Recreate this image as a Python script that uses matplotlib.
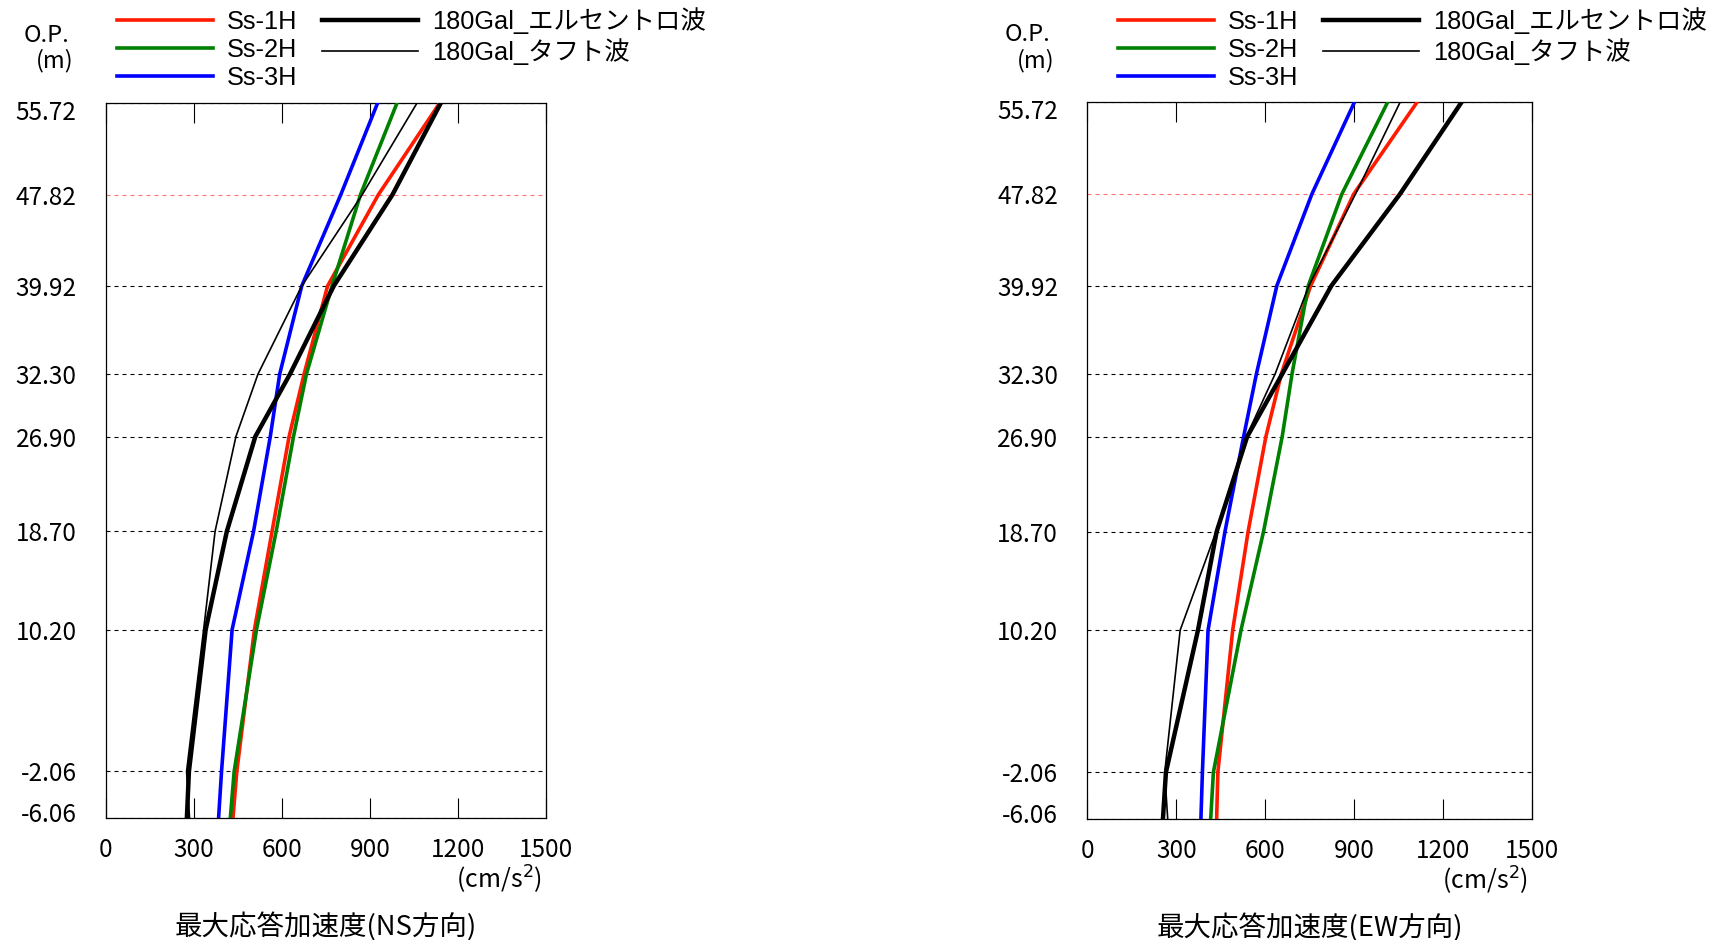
import matplotlib
matplotlib.use('Agg')
import matplotlib.pyplot as plt
import matplotlib.transforms as mtransforms

plt.rcParams['font.family'] = ['Noto Sans CJK JP', 'DejaVu Sans']

# Floor levels O.P.(m), top to bottom
levels = [55.72, 47.82, 39.92, 32.30, 26.90, 18.70, 10.20, -2.06, -6.06]
level_labels = ['55.72', '47.82', '39.92', '32.30', '26.90', '18.70', '10.20', '-2.06', '-6.06']
x_ticks = [0, 300, 600, 900, 1200, 1500]

# Max response acceleration (cm/s2), NS direction
ns_ss1h = [1136, 928, 755, 675, 624, 566, 506, 446, 433]
ns_ss2h = [991, 867, 770, 683, 639, 580, 513, 437, 424]
ns_ss3h = [925, 800, 667, 592, 560, 503, 430, 394, 384]
ns_elcentro = [1140, 976, 776, 627, 509, 412, 340, 283, 276]
ns_taft = [1059, 873, 667, 518, 443, 372, 333, 275, 285]

# Max response acceleration (cm/s2), EW direction
ew_ss1h = [1111, 898, 753, 654, 602, 542, 490, 440, 436]
ew_ss2h = [1012, 858, 745, 690, 657, 594, 518, 425, 416]
ew_ss3h = [900, 757, 639, 570, 527, 464, 407, 388, 383]
ew_elcentro = [1261, 1054, 823, 657, 539, 436, 373, 265, 255]
ew_taft = [1054, 904, 747, 633, 536, 434, 313, 261, 271]

names = ['Ss-1H', 'Ss-2H', 'Ss-3H', '180Gal_エルセントロ波', '180Gal_タフト波']
colors = ['#ff1a00', '#008000', '#0000ff', 'black', 'black']
widths = [2.6, 2.6, 2.6, 3.2, 1.2]

fig = plt.figure(figsize=(17.1, 9.4), dpi=100)


def draw_panel(rect, legend_x, series, title):
    ax = fig.add_axes(rect)
    for lv in levels:
        c = '#ff7070' if lv == 47.82 else 'black'
        ax.axhline(lv, color=c, lw=0.8, ls=(0, (3.6, 3.6)), zorder=1)
    handles = []
    for vals, name, c, w in zip(series, names, colors, widths):
        h, = ax.plot(vals, levels, color=c, lw=w, label=name, zorder=3)
        handles.append(h)

    ax.set_xlim(0, 1500)
    ax.set_ylim(-6.06, 55.72)
    ax.set_xticks(x_ticks)
    ax.set_xticklabels([str(t) for t in x_ticks], fontsize=17.5)
    ax.tick_params(axis='x', direction='in', length=14.5, width=0.8,
                   top=True, pad=14)
    ax.set_yticks(levels)
    ax.set_yticklabels(level_labels, fontsize=17.5)
    ax.tick_params(axis='y', length=0, pad=21)
    for sp in ax.spines.values():
        sp.set_linewidth(0.9)

    # nudge the end labels inside the axis range
    labels = ax.get_yticklabels()
    labels[0].set_transform(labels[0].get_transform() +
                            mtransforms.ScaledTranslation(0, -5 / 72, fig.dpi_scale_trans))
    labels[-1].set_transform(labels[-1].get_transform() +
                             mtransforms.ScaledTranslation(0, 4 / 72, fig.dpi_scale_trans))

    ax.annotate('(cm/s$^2$)', xy=(1.0, 0), xycoords='axes fraction',
                xytext=(-3, -45), textcoords='offset points',
                ha='right', va='center', fontsize=18)
    ax.set_xlabel(title, fontsize=19.8, labelpad=35)

    ax.annotate('O.P.', xy=(0, 1), xycoords='axes fraction',
                xytext=(-43, 49), textcoords='offset points',
                ha='center', va='center', fontsize=17)
    ax.annotate('(m)', xy=(0, 1), xycoords='axes fraction',
                xytext=(-37, 30.5), textcoords='offset points',
                ha='center', va='center', fontsize=17)

    ax.legend(handles=handles, ncol=2, loc='upper left',
              bbox_to_anchor=(legend_x, 1.0), bbox_transform=fig.transFigure,
              frameon=False,
              prop={'family': ['Liberation Sans', 'Noto Sans CJK JP'], 'size': 18.3},
              handlelength=3.77, handletextpad=0.56, columnspacing=0.98,
              labelspacing=0.17, borderpad=0.27, borderaxespad=0)
    return ax


draw_panel([105.8 / 1710, 0.1301, 440.6 / 1710, 0.7600], 110 / 1710,
           [ns_ss1h, ns_ss2h, ns_ss3h, ns_elcentro, ns_taft],
           '最大応答加速度(NS方向)')
draw_panel([1087.3 / 1710, 0.1290, 445 / 1710, 0.7620], 1111 / 1710,
           [ew_ss1h, ew_ss2h, ew_ss3h, ew_elcentro, ew_taft],
           '最大応答加速度(EW方向)')

fig.savefig('out.png', dpi=100)
